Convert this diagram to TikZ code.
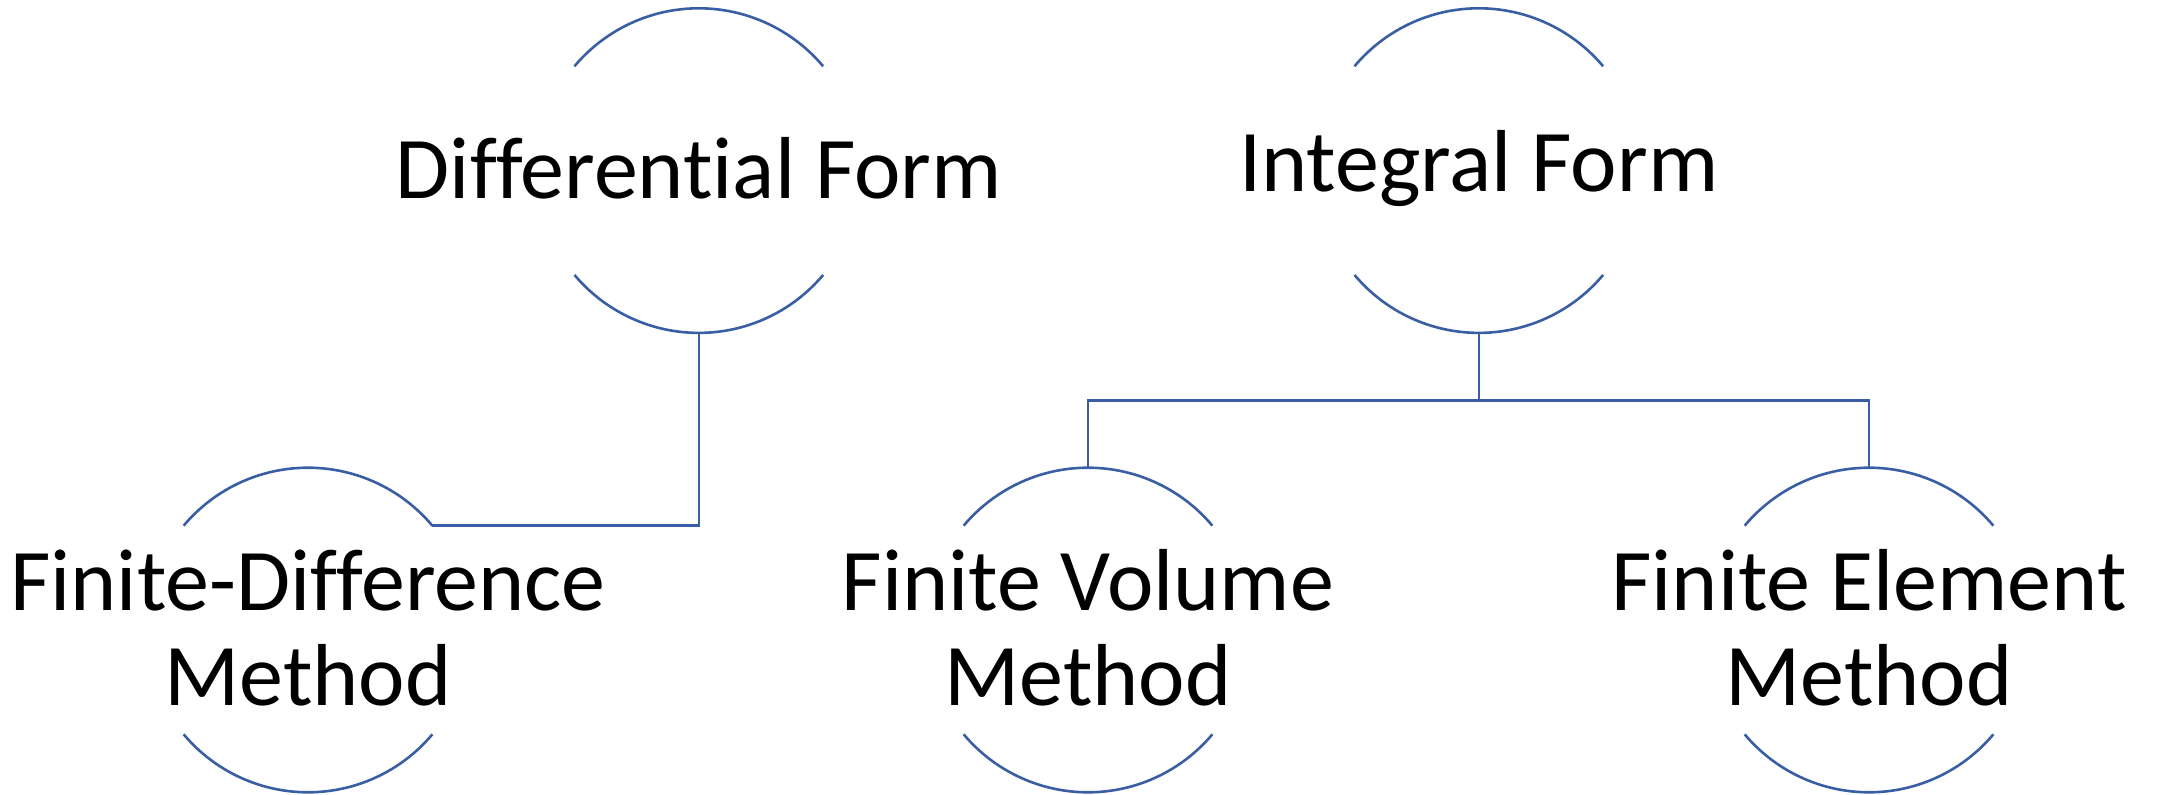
\documentclass[tikz,border=0pt]{standalone}
\usepackage{fontspec}
\setmainfont{Carlito}[Ligatures={NoCommon}]
\usetikzlibrary{calc}
\definecolor{linecol}{RGB}{58,94,164}
\tikzset{
  ring/.style={circle, minimum size=162.3pt, inner sep=0pt, outer sep=0pt},
  label text/.style={align=center, font=\fontsize{44pt}{47.5pt}\selectfont, inner sep=0pt, text=black},
  arcline/.style={draw=linecol, line width=1.3pt},
}
\begin{document}
\begin{tikzpicture}[x=0.5pt,y=0.5pt]
\useasboundingbox (0,0) rectangle (2157,794);
% circles (invisible) used for geometry
\node[ring] (d)  at (698.8,623.4) {};
\node[ring] (i)  at (1478.8,623.4) {};
\node[ring] (fd) at (308,164) {};
\node[ring] (fv) at (1088,164) {};
\node[ring] (fe) at (1869,164) {};
% texts
\node[label text] (dt)  at ([yshift=1pt]d.center)  {Differential Form};
\node[label text] (it)  at ([yshift=1pt]i.center)  {Integral Form};
\node[label text] (fdt) at ([yshift=1pt]fd.center) {Finite-Difference\\Method};
\node[label text] (fvt) at ([yshift=1pt]fv.center) {Finite Volume\\Method};
\node[label text] (fet) at ([yshift=1pt]fe.center) {Finite Element\\Method};
% arcs
\foreach \n in {d,i,fd,fv,fe}{
  \draw[arcline] (\n.40) arc[start angle=40, end angle=140, radius=162.3];
  \draw[arcline] (\n.220) arc[start angle=220, end angle=320, radius=162.3];
}
% connectors
\coordinate (bar) at (0,393.7);
\draw[arcline] (d.south) |- (fd.40);
\draw[arcline] (i.south) -- (i.south |- bar);
\draw[arcline] (fv.north) -- (fv.north |- bar) -- (fe.north |- bar) -- (fe.north);
\end{tikzpicture}
\end{document}
